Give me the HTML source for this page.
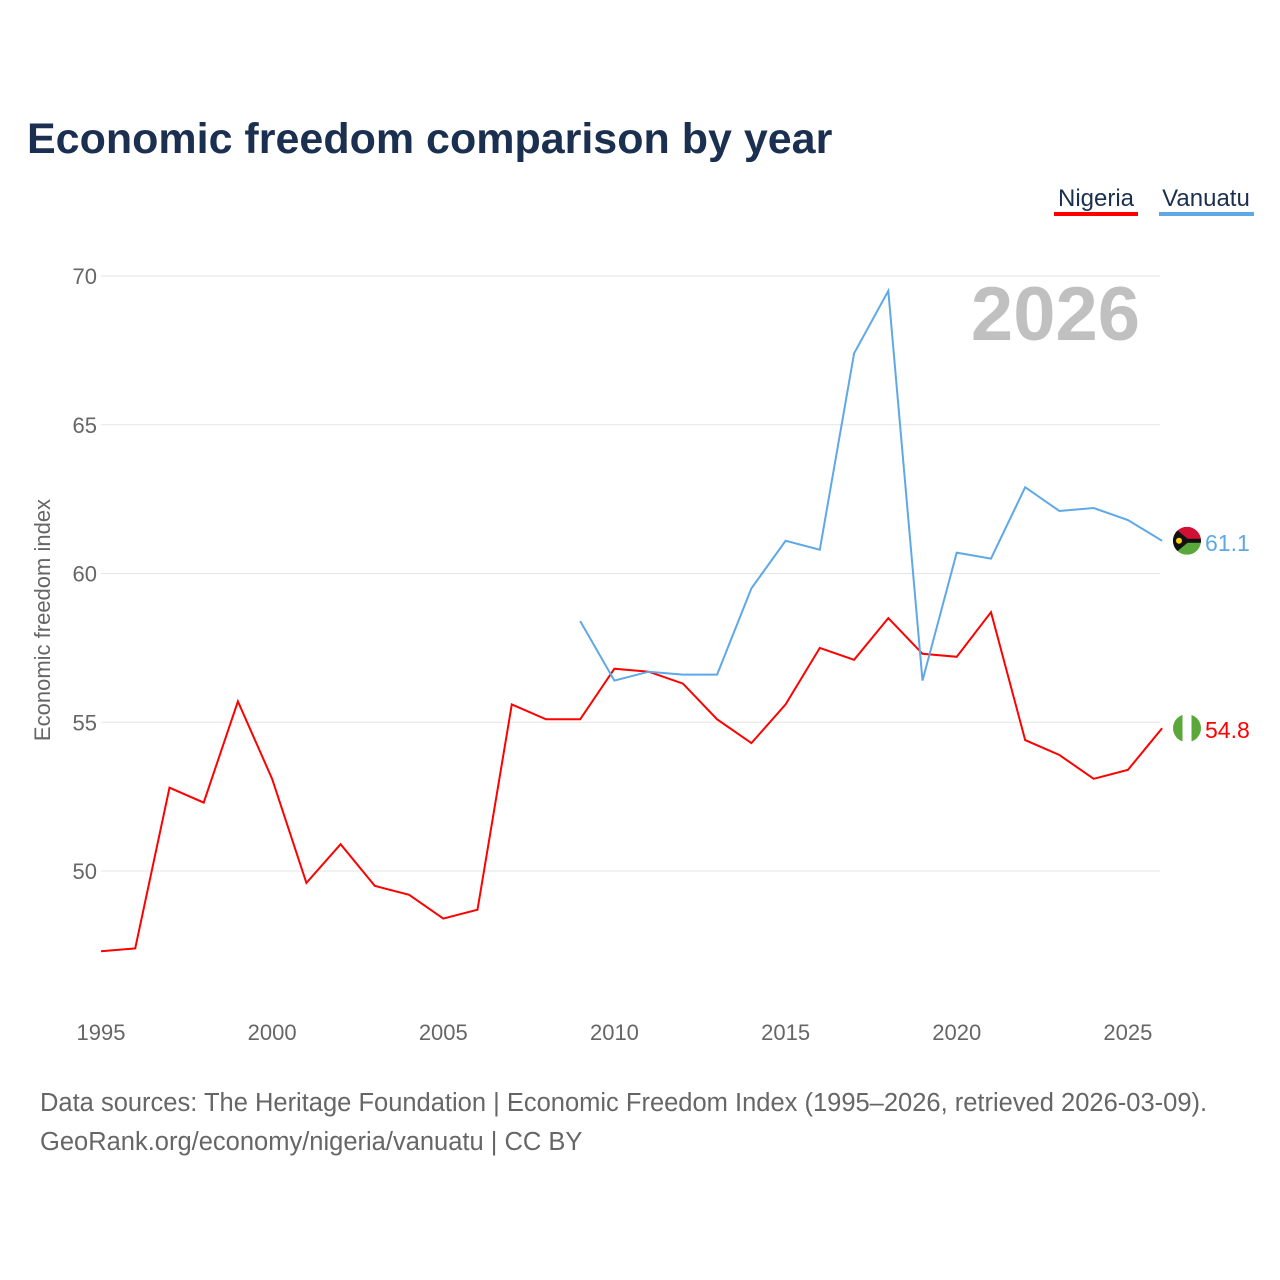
<!DOCTYPE html>
<html><head><meta charset="utf-8">
<style>
body{margin:0;background:#fff;font-family:"Liberation Sans",sans-serif;}
#wrap{position:relative;width:1280px;height:1280px;overflow:hidden;}
</style></head>
<body>
<div id="wrap">
<svg id="chart" width="1280" height="1280">
  <defs>
    <clipPath id="cn"><circle id="cnc" cx="1187" cy="0" r="14"/></clipPath>
    <clipPath id="cv"><circle id="cvc" cx="1187" cy="0" r="14"/></clipPath>
  </defs>
  <text x="27" y="153" font-size="43" font-weight="bold" fill="#1b3050">Economic freedom comparison by year</text>
  <g>
    <text x="1096" y="206" font-size="24" fill="#1b3050" text-anchor="middle">Nigeria</text>
    <rect x="1054" y="212" width="84" height="4" fill="#ff0000"/>
  </g>
  <g>
    <text x="1206" y="206" font-size="24" fill="#1b3050" text-anchor="middle">Vanuatu</text>
    <rect x="1159" y="212" width="95" height="4" fill="#5fa8e8"/>
  </g>
  <text x="1140" y="340" font-size="76" font-weight="bold" fill="#c0c0c0" text-anchor="end">2026</text>
  <text transform="translate(50,620) rotate(-90)" font-size="22" fill="#666" text-anchor="middle">Economic freedom index</text>
  <g id="grid"></g><g id="xt"></g><g id="series"></g>
  <text x="40" y="1111" font-size="25.5" fill="#666">Data sources: The Heritage Foundation | Economic Freedom Index (1995–2026, retrieved 2026-03-09).</text>
  <text x="40" y="1150" font-size="25.5" fill="#666">GeoRank.org/economy/nigeria/vanuatu | CC BY</text>
</svg>
</div>
<script>
const years = [1995,1996,1997,1998,1999,2000,2001,2002,2003,2004,2005,2006,2007,2008,2009,2010,2011,2012,2013,2014,2015,2016,2017,2018,2019,2020,2021,2022,2023,2024,2025,2026];
const nigeria = [47.3,47.4,52.8,52.3,55.7,53.1,49.6,50.9,49.5,49.2,48.4,48.7,55.6,55.1,55.1,56.8,56.7,56.3,55.1,54.3,55.6,57.5,57.1,58.5,57.3,57.2,58.7,54.4,53.9,53.1,53.4,54.8];
const vanuatu = [null,null,null,null,null,null,null,null,null,null,null,null,null,null,58.4,56.4,56.7,56.6,56.6,59.5,61.1,60.8,67.4,69.5,56.4,60.7,60.5,62.9,62.1,62.2,61.8,61.1];
const yTicks = [50,55,60,65,70];
const xTicks = [1995,2000,2005,2010,2015,2020,2025];

const NS="http://www.w3.org/2000/svg";
const xS = y => 101 + (y-1995)*34.23;
const yS = v => 276 + (70-v)*29.75;
function mk(tag, attrs, parent){const e=document.createElementNS(NS,tag);for(const k in attrs)e.setAttribute(k,attrs[k]);parent.appendChild(e);return e;}
const grid=document.getElementById('grid');
yTicks.forEach(t=>{
  const l=mk('line',{x1:101,x2:1160,y1:yS(t),y2:yS(t),stroke:'#e6e6e6','stroke-width':1},grid);
  
  
  const tx=mk('text',{x:97,y:yS(t)+8,'font-size':22,fill:'#666','text-anchor':'end'},grid);
  tx.textContent=t;
  
  
});
const xt=document.getElementById('xt');
xTicks.forEach(t=>{
  const tx=mk('text',{x:xS(t),y:1040,'font-size':22,fill:'#666','text-anchor':'middle'},xt);
  tx.textContent=t;
  
  
});
const sg=document.getElementById('series');
function draw(vals,color,name){
  let d='';let started=false;
  vals.forEach((v,i)=>{if(v==null)return;d+=(started?'L':'M')+xS(years[i]).toFixed(1)+','+yS(v).toFixed(1);started=true;});
  const p=mk('path',{d:d,fill:'none',stroke:color,'stroke-width':2},sg);
  
  
  const last=vals[vals.length-1];
  const lab=mk('text',{x:1205,y:yS(last)+10,'font-size':23,fill:color},sg);
  lab.textContent=last.toFixed(1);
  
  
  return yS(last);
}
const yn=draw(nigeria,'#ff0000','nigeria');
const yv=draw(vanuatu,'#5fa8e8','vanuatu');
document.getElementById('cnc').setAttribute('cy',yn);
document.getElementById('cvc').setAttribute('cy',yv);
// Nigeria flag
const fn=mk('g',{'clip-path':'url(#cn)'},sg);


mk('rect',{x:1173,y:yn-14,width:28,height:28,fill:'#fff'},fn);
mk('rect',{x:1173,y:yn-14,width:9.5,height:28,fill:'#5aa83a'},fn);
mk('rect',{x:1191.5,y:yn-14,width:9.5,height:28,fill:'#5aa83a'},fn);
// Vanuatu flag
const fv=mk('g',{'clip-path':'url(#cv)'},sg);


mk('rect',{x:1173,y:yv-14,width:28,height:14,fill:'#d21034'},fv);
mk('rect',{x:1173,y:yv,width:28,height:14,fill:'#5aa83a'},fv);
mk('rect',{x:1173,y:yv-2,width:28,height:4,fill:'#111'},fv);
mk('polygon',{points:`1173,${yv-14} 1190,${yv} 1173,${yv+14}`,fill:'#111'},fv);
mk('circle',{cx:1179,cy:yv,r:3,fill:'#fdce12'},fv);
</script>
</body></html>
